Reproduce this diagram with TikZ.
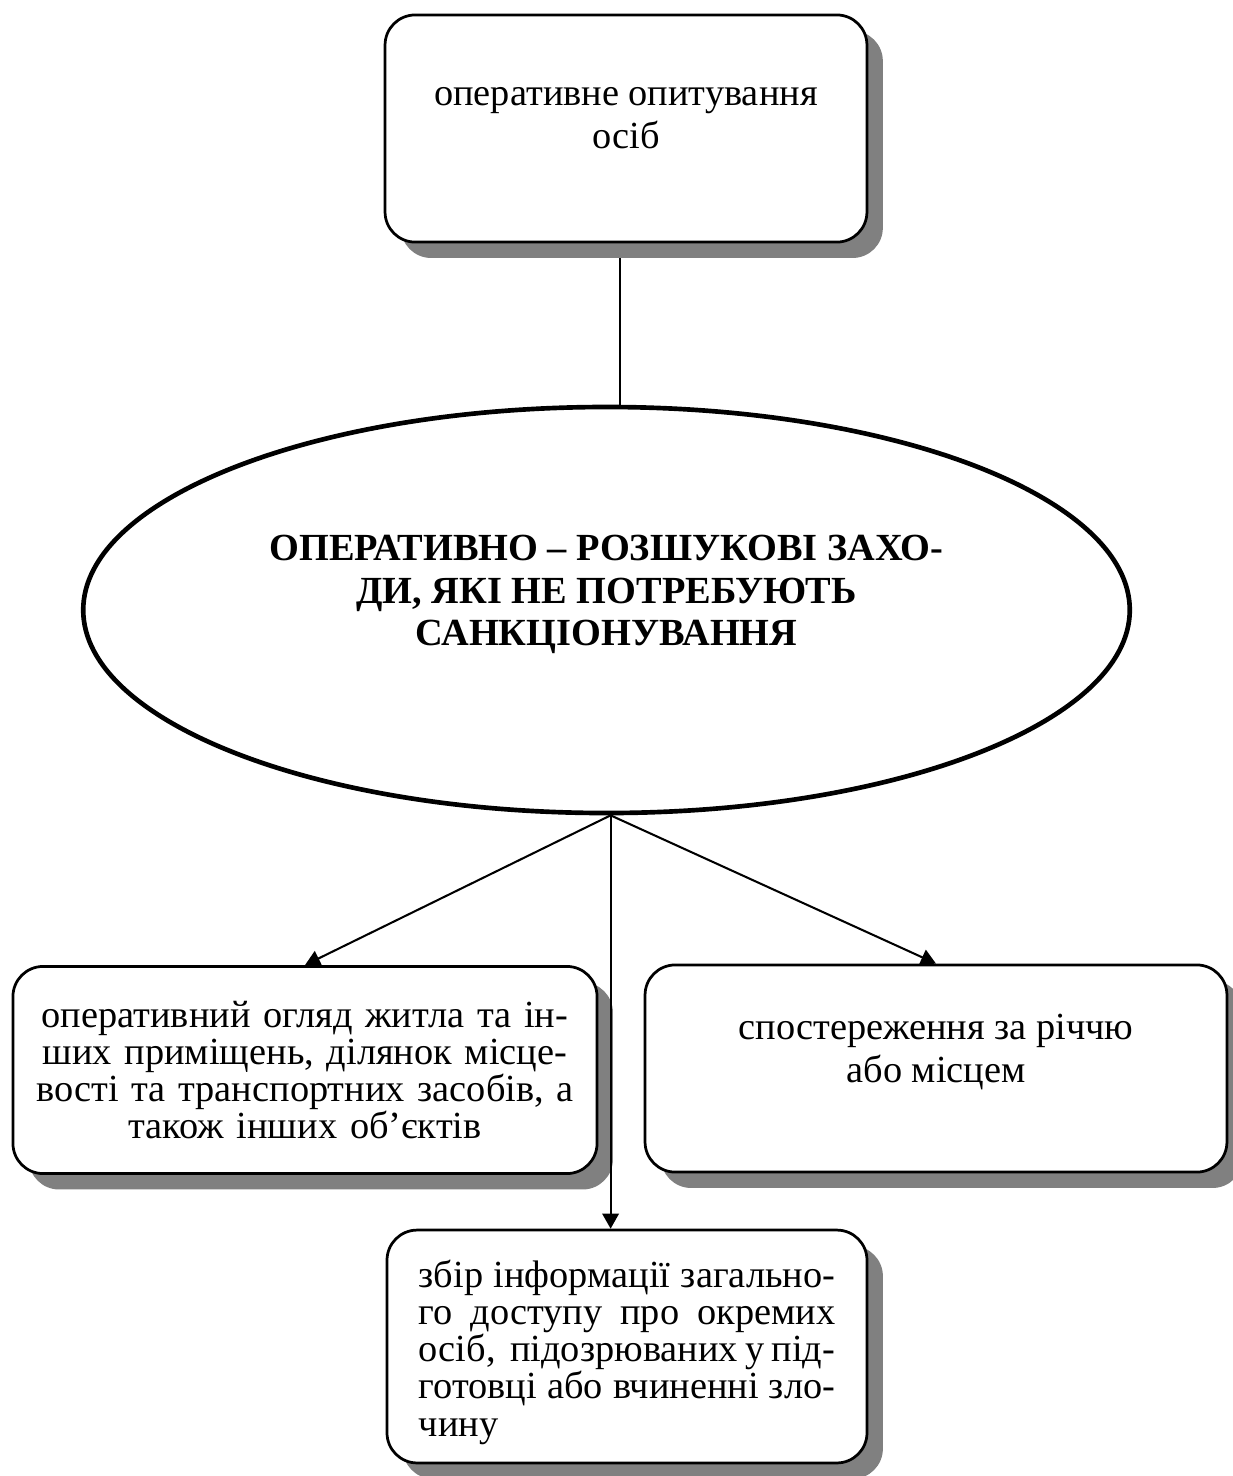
\documentclass[tikz,border=0pt]{standalone}
\usepackage{fontspec}
\setmainfont{Liberation Serif}
\usetikzlibrary{arrows.meta,shadows,shapes.geometric}

\pgfdeclarelayer{background}
\pgfsetlayers{background,main}

\tikzset{
	card/.style={draw, line width=1pt, rounded corners=11pt, fill=white, inner sep=0pt,
		drop shadow={shadow xshift=5.8pt, shadow yshift=-5.8pt, fill=black!50, opacity=1}},
	link/.style={line width=0.75pt},
	arr/.style={link, -{Triangle[length=5.5pt, width=6pt]}}
}

\begin{document}
\begin{tikzpicture}[x=0.365pt, y=-0.365pt, font=\fontsize{14}{15.5}\selectfont]
		\useasboundingbox (0,0) rectangle (1233,1476);
		\node[card] (opyt) at (626,128.5){\parbox[c][82.9pt][t]{175.9pt}{\centering\vspace*{26.5pt}оперативне опитування\\осіб}};
		\node[ellipse, draw, line width=1.7pt, minimum width=382pt, minimum height=148.2pt, inner sep=0pt] (zakhody) at (606.5,610){\parbox[c][100pt][t]{265pt}{\centering\bfseries\vspace*{22.8pt}ОПЕРАТИВНО – РОЗШУКОВІ ЗАХО-\\ДИ, ЯКІ НЕ ПОТРЕБУЮТЬ\\САНКЦІОНУВАННЯ}};
		\node[card, minimum width=213.2pt, minimum height=75.6pt, text width=200pt, align=center, font=\fontsize{14}{13.5}\selectfont] (ogliad) at (305,1070){оперативний огляд житла та ін-\\ших приміщень, ділянок місце-\\вості та транспортних засобів, а\\також інших об’єктів};
		\node[card] (sposter) at (936,1068.5){\parbox[c][75.6pt][t]{212.4pt}{\centering\vspace*{18pt}спостереження за річчю\\або місцем}};
		\node[card, minimum width=175.2pt, minimum height=85pt, text width=152pt, align=justify, font=\fontsize{14}{13.6}\selectfont] (zbir) at (627,1346.5){збір інформації загально-\linebreak го доступу про окремих\linebreak осіб,\ \ підозрюваних у під-\linebreak готовці або вчиненні зло-\linebreak чину\vspace*{-4pt}};
		\begin{pgfonlayer}{background}
		\draw[link] ([xshift=-2.2pt]opyt.south) -- ([xshift=-2.2pt]opyt.south |- zakhody.north);
		\end{pgfonlayer}
		\draw[arr] ([xshift=1.5pt]zakhody.south) -- (ogliad.north);
		\draw[arr] ([xshift=1.5pt]zakhody.south) -- (sposter.north);
		\draw[arr] ([xshift=1.5pt]zakhody.south) -- ([xshift=1.5pt]zakhody.south |- zbir.north);
\end{tikzpicture}
\end{document}
